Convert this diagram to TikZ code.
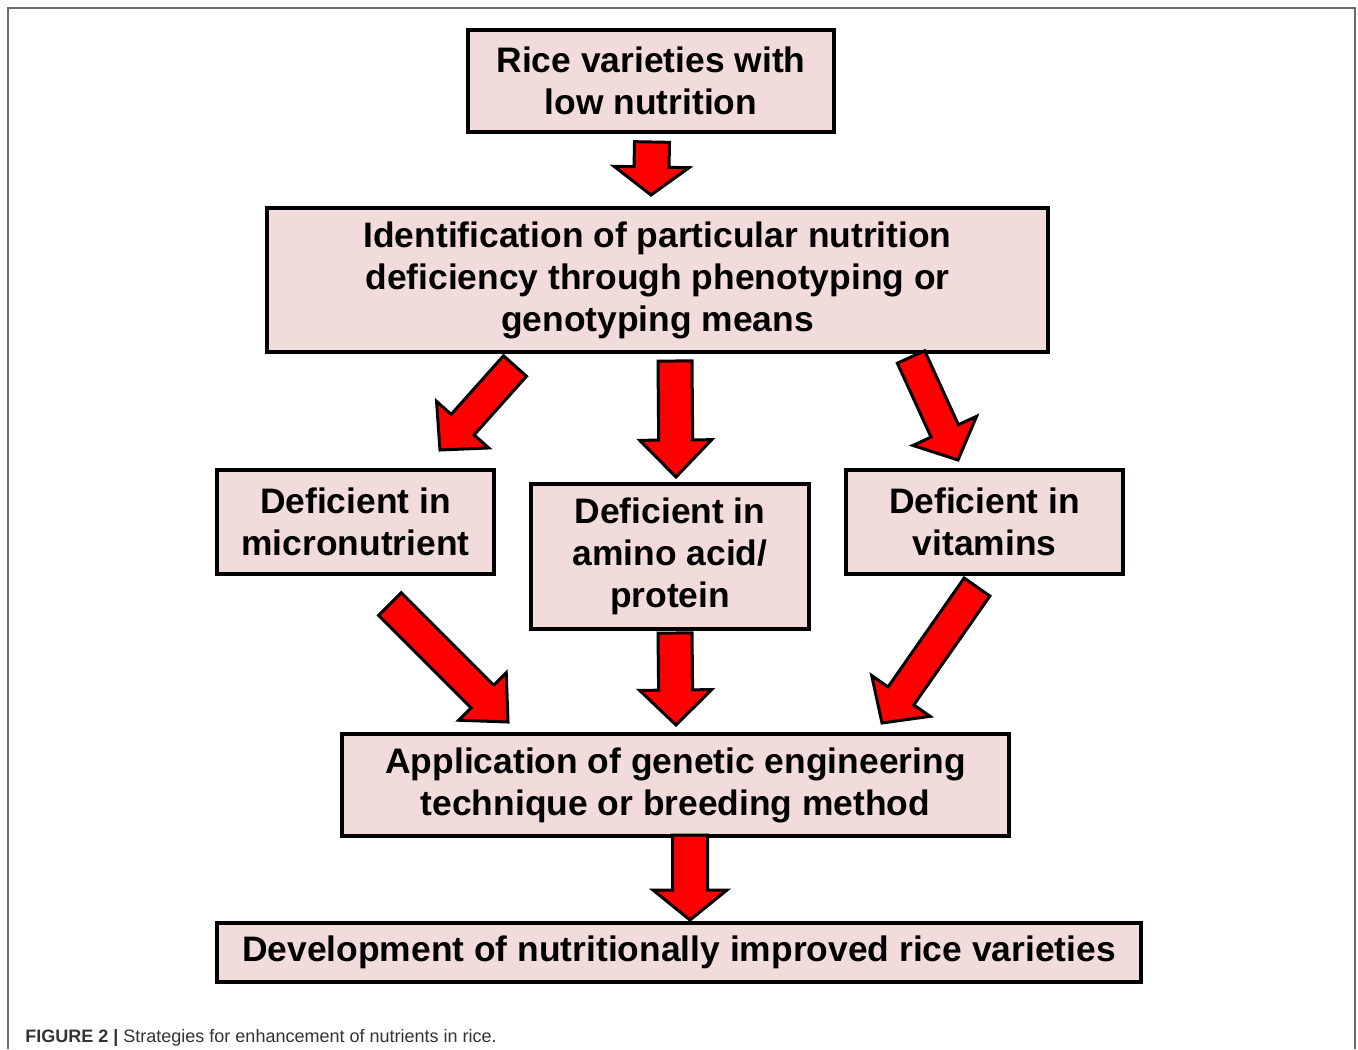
\documentclass[tikz,border=0pt]{standalone}
\usepackage{fontspec}
\setmainfont{Liberation Sans}
\usetikzlibrary{calc}
\definecolor{boxpink}{HTML}{F2DCDB}
\definecolor{framegray}{gray}{0.42}
\definecolor{capgray}{gray}{0.2}
\definecolor{arrred}{HTML}{FF0000}
% #1 tail, #2 tip, #3 shaft half width, #4 head half width, #5 head length
\newcommand\blockarrow[5]{%
  \coordinate (bac) at ($(#2)!#5!(#1)$);
  \draw[blockarr] ($(#1)!#3!90:(#2)$) -- ($(bac)!#3!90:(#2)$) -- ($(bac)!#4!90:(#2)$) -- (#2)
    -- ($(bac)!#4!-90:(#2)$) -- ($(bac)!#3!-90:(#2)$) -- ($(#1)!#3!-90:(#2)$) -- cycle;}
\begin{document}
\begin{tikzpicture}[x=0.5pt,y=-0.5pt,
  box/.style={draw=black, fill=boxpink, line width=1.7pt, inner sep=0pt, align=center,
    font=\fontsize{17.7pt}{21pt}\selectfont\bfseries},
  blockarr/.style={draw=black, fill=arrred, line width=1.5pt, line join=miter}]
\useasboundingbox (0,0) rectangle (1358,1049);
\fill[white] (0,0) rectangle (1358,1049);
\draw[framegray, line width=0.8pt] (8,1049) -- (8,8) -- (1355,8) -- (1355,1049);

\node[box, minimum width=183pt, minimum height=51pt] (top) at (651,81) {Rice varieties with\\low nutrition};
\node[box, minimum width=390.5pt, minimum height=72pt] (ident) at (657.5,280) {Identification of particular nutrition\\deficiency through phenotyping or\\genotyping means};
\node[box, minimum width=138.5pt, minimum height=52pt] (micro) at (355.5,522) {Deficient in\\micronutrient};
\node[box, minimum width=139pt, minimum height=72.5pt] (amino) at (670,556.5) {Deficient in\\amino acid/\\protein};
\node[box, minimum width=138.5pt, minimum height=52pt] (vit) at (984.5,522) {Deficient in\\vitamins};
\node[box, minimum width=333.5pt, minimum height=51pt] (appl) at (675.5,785) {Application of genetic engineering\\technique or breeding method};
\node[box, minimum width=462pt, minimum height=29.5pt] (dev) at (679,952.5) {Development of nutritionally improved rice varieties};

\coordinate (a1s) at (652,142); \coordinate (a1e) at (651,195);
\coordinate (a2s) at (515,366); \coordinate (a2e) at (440,450);
\coordinate (a3s) at (675,361); \coordinate (a3e) at (676,477);
\coordinate (a4s) at (911,357); \coordinate (a4e) at (958,460);
\coordinate (a5s) at (390,604); \coordinate (a5e) at (508,722);
\coordinate (a6s) at (675,633); \coordinate (a6e) at (676,725);
\coordinate (a7s) at (977,587); \coordinate (a7e) at (882,723);
\coordinate (a8s) at (690,835); \coordinate (a8e) at (690,920);

\blockarrow{a1s}{a1e}{8.75pt}{18.75pt}{14pt}
\blockarrow{a2s}{a2e}{7.7pt}{17.5pt}{17pt}
\blockarrow{a3s}{a3e}{8.5pt}{18pt}{18.5pt}
\blockarrow{a4s}{a4e}{7.5pt}{17.5pt}{16pt}
\blockarrow{a5s}{a5e}{8pt}{16.75pt}{18pt}
\blockarrow{a6s}{a6e}{8.5pt}{18pt}{17.5pt}
\blockarrow{a7s}{a7e}{7.85pt}{17.8pt}{16.5pt}
\blockarrow{a8s}{a8e}{8.75pt}{18.5pt}{15pt}

\node[anchor=base west, inner sep=0pt, text=capgray, font=\fontsize{9pt}{11pt}\selectfont] (cap) at (25,1042)
  {\textbf{FIGURE 2 |} Strategies for enhancement of nutrients in rice.};
\end{tikzpicture}
\end{document}
